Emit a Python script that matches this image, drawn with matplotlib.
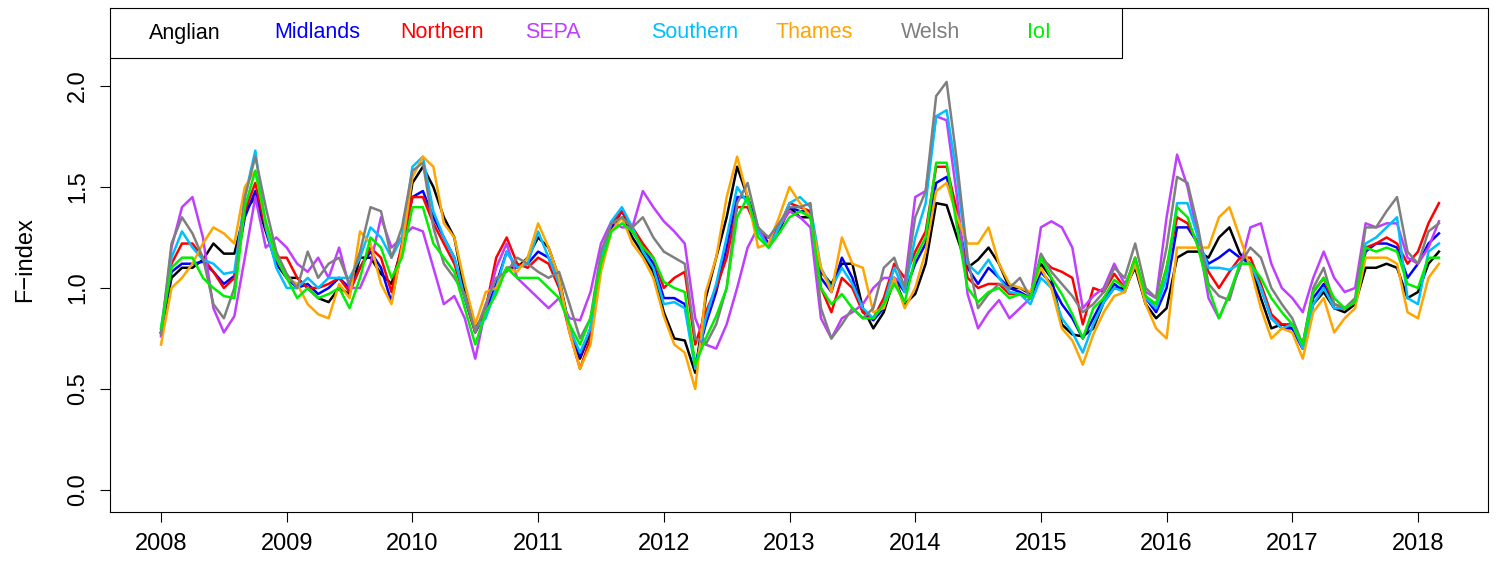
import matplotlib
matplotlib.use("Agg")
import matplotlib.pyplot as plt
import numpy as np
from matplotlib.patches import Rectangle

plt.rcParams['font.family'] = ['Liberation Sans', 'DejaVu Sans']

# monthly F-index per region, Jan 2008 .. Mar 2018
years = 2008 + np.arange(123) / 12

anglian = [0.78, 1.05, 1.10, 1.10, 1.14, 1.22, 1.17, 1.17, 1.38, 1.45, 1.28, 1.12,
           1.05, 1.05, 1.00, 0.95, 0.93, 1.00, 0.97, 1.15, 1.15, 1.07, 1.02, 1.20,
           1.52, 1.60, 1.50, 1.35, 1.25, 0.98, 0.80, 0.88, 1.00, 1.10, 1.10, 1.15,
           1.25, 1.20, 1.05, 0.80, 0.65, 0.78, 1.10, 1.30, 1.35, 1.25, 1.17, 1.08,
           0.88, 0.75, 0.74, 0.58, 0.95, 1.15, 1.35, 1.60, 1.45, 1.28, 1.25, 1.28,
           1.40, 1.35, 1.35, 1.08, 1.02, 1.12, 1.12, 0.90, 0.80, 0.88, 1.05, 0.92,
           0.97, 1.12, 1.42, 1.41, 1.25, 1.10, 1.14, 1.20, 1.12, 1.00, 1.00, 0.97,
           1.12, 1.05, 0.82, 0.77, 0.76, 0.80, 0.93, 1.00, 1.00, 1.10, 0.92, 0.85,
           0.90, 1.15, 1.18, 1.18, 1.15, 1.25, 1.30, 1.17, 1.12, 0.95, 0.80, 0.82,
           0.80, 0.70, 0.92, 0.98, 0.90, 0.88, 0.92, 1.10, 1.10, 1.12, 1.10, 0.95,
           0.98, 1.12, 1.18]
midlands = [0.78, 1.08, 1.12, 1.12, 1.13, 1.08, 1.02, 1.06, 1.35, 1.48, 1.30, 1.13,
            1.05, 1.00, 1.02, 0.97, 1.00, 1.05, 1.00, 1.10, 1.18, 1.10, 0.93, 1.20,
            1.45, 1.48, 1.35, 1.25, 1.15, 0.95, 0.78, 0.88, 1.02, 1.18, 1.10, 1.12,
            1.18, 1.15, 1.02, 0.80, 0.66, 0.80, 1.12, 1.30, 1.38, 1.28, 1.20, 1.12,
            0.95, 0.95, 0.92, 0.62, 0.82, 0.98, 1.20, 1.45, 1.45, 1.30, 1.22, 1.30,
            1.40, 1.38, 1.38, 1.05, 0.98, 1.15, 1.05, 0.88, 0.84, 0.90, 1.05, 0.98,
            1.12, 1.22, 1.52, 1.55, 1.35, 1.10, 1.02, 1.10, 1.05, 1.00, 0.98, 0.95,
            1.08, 1.02, 0.92, 0.85, 0.75, 0.85, 0.95, 1.02, 0.98, 1.12, 0.95, 0.88,
            1.00, 1.30, 1.30, 1.22, 1.12, 1.15, 1.19, 1.15, 1.12, 1.00, 0.85, 0.80,
            0.80, 0.70, 0.95, 1.02, 0.90, 0.90, 0.93, 1.18, 1.22, 1.22, 1.20, 1.05,
            1.12, 1.22, 1.27]
northern = [0.78, 1.12, 1.22, 1.22, 1.15, 1.08, 1.00, 1.05, 1.38, 1.52, 1.30, 1.15,
            1.15, 1.05, 1.00, 1.00, 1.02, 1.05, 0.98, 1.10, 1.20, 1.15, 0.98, 1.22,
            1.45, 1.45, 1.32, 1.22, 1.12, 0.95, 0.78, 0.90, 1.15, 1.25, 1.12, 1.10,
            1.15, 1.12, 1.00, 0.78, 0.60, 0.75, 1.12, 1.32, 1.38, 1.30, 1.22, 1.15,
            1.00, 1.05, 1.08, 0.72, 0.88, 1.00, 1.15, 1.40, 1.40, 1.28, 1.25, 1.30,
            1.42, 1.40, 1.38, 1.00, 0.88, 1.05, 1.00, 0.88, 0.85, 0.95, 1.12, 1.05,
            1.18, 1.28, 1.60, 1.60, 1.38, 1.05, 1.00, 1.02, 1.02, 0.97, 0.97, 0.95,
            1.15, 1.10, 1.08, 1.05, 0.82, 1.00, 0.98, 1.07, 1.00, 1.15, 0.95, 0.92,
            1.10, 1.35, 1.32, 1.22, 1.08, 1.00, 1.08, 1.15, 1.15, 1.02, 0.87, 0.82,
            0.82, 0.72, 0.98, 1.05, 0.92, 0.90, 0.93, 1.20, 1.22, 1.25, 1.22, 1.12,
            1.18, 1.32, 1.42]
sepa = [0.76, 1.20, 1.40, 1.45, 1.25, 0.90, 0.78, 0.86, 1.15, 1.45, 1.20, 1.25,
        1.20, 1.12, 1.08, 1.15, 1.05, 1.20, 1.00, 1.00, 1.12, 1.35, 1.20, 1.25,
        1.30, 1.28, 1.10, 0.92, 0.96, 0.85, 0.65, 0.90, 1.10, 1.22, 1.05, 1.00,
        0.95, 0.90, 0.95, 0.85, 0.84, 0.98, 1.22, 1.33, 1.30, 1.30, 1.48, 1.40,
        1.33, 1.28, 1.22, 0.85, 0.72, 0.70, 0.82, 1.00, 1.20, 1.30, 1.20, 1.30,
        1.38, 1.35, 1.30, 0.85, 0.75, 0.85, 0.88, 0.92, 1.00, 1.05, 1.05, 1.02,
        1.45, 1.48, 1.85, 1.83, 1.45, 0.97, 0.80, 0.88, 0.94, 0.85, 0.90, 0.95,
        1.30, 1.33, 1.30, 1.20, 0.90, 0.96, 1.00, 1.12, 1.02, 1.12, 0.98, 0.95,
        1.35, 1.66, 1.50, 1.25, 0.95, 0.85, 0.97, 1.10, 1.30, 1.32, 1.12, 1.00,
        0.95, 0.88, 1.05, 1.18, 1.05, 0.98, 1.00, 1.32, 1.30, 1.32, 1.32, 1.15,
        1.12, 1.20, 1.33]
southern = [0.80, 1.15, 1.28, 1.20, 1.14, 1.12, 1.07, 1.08, 1.45, 1.68, 1.30, 1.10,
            1.00, 1.00, 1.05, 1.00, 1.05, 1.05, 1.05, 1.15, 1.30, 1.25, 1.15, 1.25,
            1.60, 1.65, 1.38, 1.25, 1.15, 0.95, 0.80, 0.85, 1.00, 1.18, 1.10, 1.12,
            1.28, 1.15, 1.02, 0.80, 0.68, 0.80, 1.15, 1.33, 1.40, 1.30, 1.18, 1.10,
            0.92, 0.93, 0.90, 0.60, 0.85, 1.02, 1.25, 1.50, 1.42, 1.28, 1.20, 1.30,
            1.42, 1.45, 1.40, 1.10, 1.00, 1.10, 1.02, 0.90, 0.85, 0.92, 1.10, 0.98,
            1.25, 1.42, 1.85, 1.88, 1.55, 1.12, 1.07, 1.14, 1.05, 0.98, 0.97, 0.92,
            1.05, 1.00, 0.85, 0.78, 0.68, 0.82, 0.93, 1.00, 0.98, 1.12, 0.95, 0.90,
            1.05, 1.42, 1.42, 1.25, 1.10, 1.10, 1.09, 1.12, 1.12, 1.00, 0.85, 0.80,
            0.82, 0.70, 0.92, 1.00, 0.90, 0.90, 0.93, 1.22, 1.25, 1.30, 1.35, 0.95,
            0.92, 1.18, 1.22]
thames = [0.72, 1.00, 1.05, 1.12, 1.22, 1.30, 1.27, 1.22, 1.50, 1.58, 1.32, 1.15,
          1.05, 1.02, 0.92, 0.87, 0.85, 1.02, 0.95, 1.28, 1.22, 1.02, 0.92, 1.20,
          1.55, 1.65, 1.60, 1.32, 1.25, 1.02, 0.82, 0.98, 1.00, 1.10, 1.08, 1.15,
          1.32, 1.20, 1.05, 0.78, 0.60, 0.72, 1.08, 1.28, 1.35, 1.22, 1.15, 1.05,
          0.86, 0.72, 0.68, 0.50, 0.98, 1.15, 1.45, 1.65, 1.45, 1.20, 1.22, 1.35,
          1.50, 1.42, 1.35, 1.10, 0.98, 1.25, 1.12, 1.10, 0.88, 0.90, 1.05, 0.90,
          1.00, 1.18, 1.48, 1.52, 1.35, 1.22, 1.22, 1.30, 1.12, 1.02, 1.00, 0.98,
          1.10, 1.00, 0.80, 0.74, 0.62, 0.77, 0.88, 0.96, 0.98, 1.12, 0.92, 0.80,
          0.75, 1.20, 1.20, 1.20, 1.20, 1.35, 1.40, 1.25, 1.10, 0.90, 0.75, 0.80,
          0.78, 0.65, 0.88, 0.95, 0.78, 0.85, 0.90, 1.15, 1.15, 1.15, 1.12, 0.88,
          0.85, 1.05, 1.12]
welsh = [0.77, 1.22, 1.35, 1.27, 1.15, 0.92, 0.85, 1.00, 1.45, 1.65, 1.40, 1.18,
         1.07, 1.00, 1.18, 1.05, 1.12, 1.15, 1.02, 1.18, 1.40, 1.38, 1.15, 1.30,
         1.58, 1.62, 1.30, 1.12, 1.05, 0.97, 0.78, 0.92, 1.05, 1.08, 1.15, 1.12,
         1.08, 1.05, 1.08, 0.92, 0.75, 0.85, 1.18, 1.32, 1.35, 1.30, 1.35, 1.25,
         1.18, 1.15, 1.12, 0.75, 0.72, 0.82, 1.00, 1.42, 1.52, 1.30, 1.25, 1.32,
         1.40, 1.40, 1.42, 0.90, 0.75, 0.82, 0.90, 0.85, 0.90, 1.10, 1.15, 1.00,
         1.35, 1.48, 1.95, 2.02, 1.62, 1.15, 0.90, 0.97, 1.02, 1.00, 1.05, 0.95,
         1.17, 1.08, 1.02, 0.96, 0.88, 0.92, 0.98, 1.10, 1.05, 1.22, 1.00, 0.95,
         1.20, 1.55, 1.52, 1.30, 1.02, 0.96, 0.94, 1.12, 1.20, 1.15, 1.00, 0.92,
         0.85, 0.72, 1.00, 1.10, 0.92, 0.90, 0.95, 1.30, 1.30, 1.38, 1.45, 1.18,
         1.12, 1.28, 1.32]
ioi = [0.80, 1.10, 1.15, 1.15, 1.05, 1.00, 0.96, 0.95, 1.40, 1.58, 1.33, 1.15,
       1.05, 0.95, 1.00, 0.95, 0.97, 1.00, 0.90, 1.05, 1.25, 1.20, 1.05, 1.15,
       1.40, 1.40, 1.22, 1.15, 1.08, 0.90, 0.72, 0.88, 0.97, 1.10, 1.05, 1.05,
       1.05, 1.00, 0.95, 0.82, 0.72, 0.85, 1.12, 1.28, 1.32, 1.28, 1.20, 1.15,
       1.03, 1.00, 0.98, 0.62, 0.75, 0.86, 1.00, 1.35, 1.45, 1.25, 1.20, 1.27,
       1.35, 1.38, 1.35, 1.00, 0.92, 0.97, 0.90, 0.85, 0.85, 0.92, 1.02, 0.93,
       1.15, 1.25, 1.62, 1.62, 1.30, 1.00, 0.93, 0.98, 1.00, 0.95, 0.97, 0.95,
       1.15, 1.05, 0.97, 0.87, 0.75, 0.90, 0.95, 1.04, 1.00, 1.15, 0.96, 0.92,
       1.10, 1.40, 1.35, 1.20, 1.00, 0.85, 0.97, 1.12, 1.12, 1.05, 0.95, 0.88,
       0.82, 0.72, 0.98, 1.05, 0.95, 0.90, 0.93, 1.20, 1.18, 1.20, 1.18, 1.02,
       1.00, 1.15, 1.15]

regions = ['Anglian', 'Midlands', 'Northern', 'SEPA', 'Southern', 'Thames', 'Welsh', 'IoI']
series = [anglian, midlands, northern, sepa, southern, thames, welsh, ioi]
colors = ['black', '#0000FF', '#FF0000', '#BF3EFF', '#00BFFF', '#FFA500', '#7F7F7F', '#00EE00']

W, H = 1498, 561
fig = plt.figure(figsize=(W / 100, H / 100), dpi=100)
ax = fig.add_axes([110 / W, (H - 512) / H, (1488 - 110) / W, (512 - 8) / H])

for vals, col in zip(series, colors):
    ax.plot(years, vals, color=col, linewidth=1.8)

ax.set_xlim(2007.594, 2018.557)
ax.set_ylim(-0.109, 2.386)
ax.set_xticks(range(2008, 2019))
ax.set_yticks([0.0, 0.5, 1.0, 1.5, 2.0])
ax.set_yticklabels(['0.0', '0.5', '1.0', '1.5', '2.0'], rotation=90, va='center')
ax.tick_params(axis='x', labelsize=17, length=7, width=0.8, pad=8)
ax.tick_params(axis='y', labelsize=17, length=7, width=0.8, pad=8)
ax.set_ylabel('F\u2212index', fontsize=17, labelpad=22)
for s in ax.spines.values():
    s.set_linewidth(0.8)

# legend box across the top left of the panel
ax.add_patch(Rectangle((110 / W, (H - 58) / H), (1122 - 110) / W, 50 / H,
                       transform=fig.transFigure, facecolor='white',
                       edgecolor='black', linewidth=0.8, zorder=5))
for i, (name, col) in enumerate(zip(regions, colors)):
    fig.text((149 + i * 125.4) / W, (H - 33) / H, name, color=col,
             fontsize=15.5, va='center', ha='left', zorder=6)

fig.savefig('out.png', dpi=100)
